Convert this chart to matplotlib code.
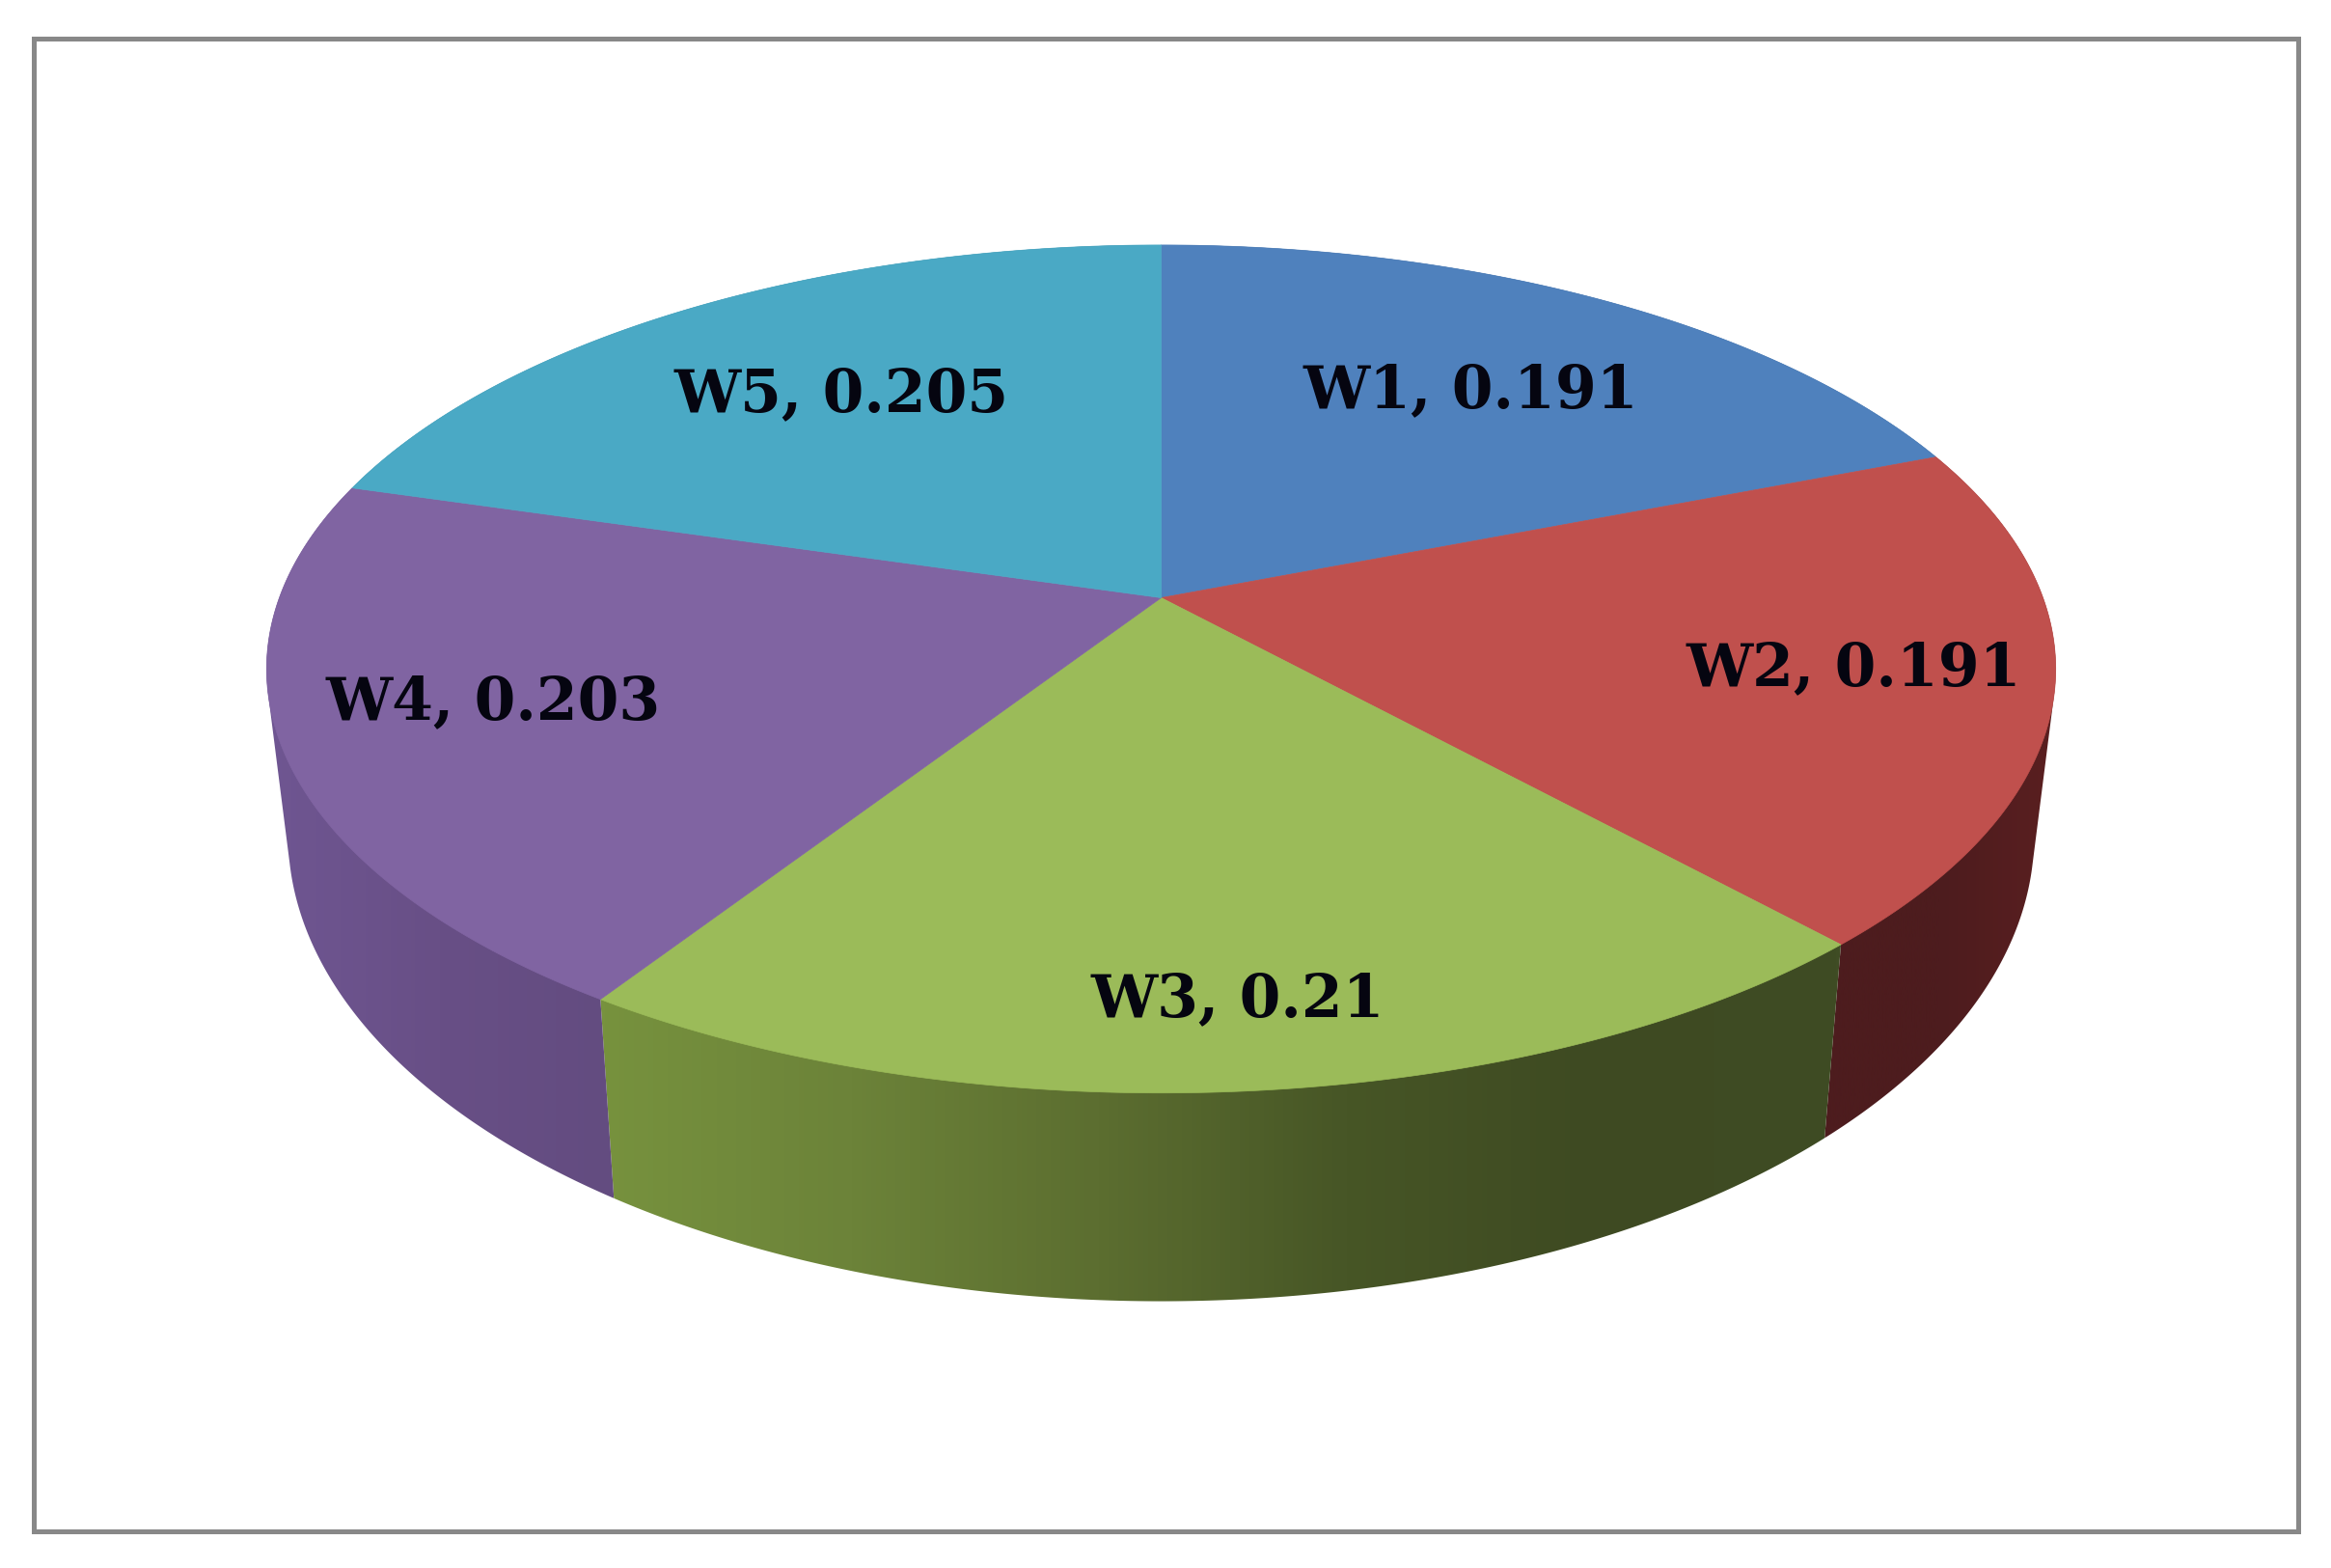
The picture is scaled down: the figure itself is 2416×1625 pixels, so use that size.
import numpy as np
import matplotlib
matplotlib.use('Agg')
import matplotlib.pyplot as plt
from matplotlib.colors import LinearSegmentedColormap
from matplotlib.patches import Polygon, Rectangle

# chart data
names = ['W1', 'W2', 'W3', 'W4', 'W5']
values = [0.191, 0.191, 0.21, 0.203, 0.205]
value_labels = ['0.191', '0.191', '0.21', '0.203', '0.205']

top_colors = ['#4f81bd', '#c0504d', '#9bbb59', '#8064a2', '#4aa9c5']
wall_colors = [
    ['#2c4a70', '#2c4a70'],
    ['#4d1c1e', '#4d1c1e', '#5a1f20'],
    ['#77923e', '#6c8339', '#5c6e30', '#475626', '#3e4a22', '#3f4c24'],
    ['#6f5692', '#684f86', '#634c80'],
    ['#2a6a7c', '#2a6a7c'],
]
label_pos = [(1524, 405), (1921, 693), (1283, 1036), (511, 728), (872, 409)]

# projection of the pie disc (pixels of the full image)
cx, cy = 1203.5, 619.5
rx, ry = 914, 427
k = 0.168
low_cy, low_sx, low_sy = 784, 0.976, 1.1


def rim(t, cy0=cy, sx=1.0, sy=1.0):
    # t is clockwise from 12 o'clock
    X, Y = np.sin(t), np.cos(t)
    s = 1 / (1 + k * Y)
    return cx + sx * rx * X * s, cy0 - sy * ry * Y * s


def low(t):
    return rim(t, low_cy, low_sx, low_sy)


def tangent_angle(a, b):
    # where the wall's vertical edge touches the outline of the top ellipse
    t = np.linspace(a, b, 2000)
    ux, uy = rim(t)
    lx, ly = low(t)
    cross = np.gradient(ux) * (ly - uy) - np.gradient(uy) * (lx - ux)
    return t[np.argmin(np.abs(cross))]


t_right = tangent_angle(np.pi / 4, 3 * np.pi / 4)
t_left = tangent_angle(5 * np.pi / 4, 7 * np.pi / 4)

fig = plt.figure(figsize=(24.16, 16.25), dpi=100)
ax = fig.add_axes([0, 0, 1, 1])
ax.set_xlim(0, 2416)
ax.set_ylim(1625, 0)
ax.axis('off')

ax.add_patch(Rectangle((34.5, 39.5), 2347, 1547, fc='white', ec='#888888', lw=3.6))

edges = np.cumsum([0] + values) / np.sum(values) * 2 * np.pi

# side walls first, the top covers what is behind
for i in range(len(values)):
    t = np.linspace(edges[i], edges[i + 1], 400)
    ux, uy = rim(t)
    lx, ly = low(t)
    front = (t >= t_right) & (t <= t_left)
    px = np.r_[ux[0], np.where(front, lx, ux), ux[-1]]
    py = np.r_[uy[0], np.where(front, ly, uy), uy[-1]]
    poly = Polygon(np.c_[px, py], closed=True, transform=ax.transData,
                   fc='none', ec='none')
    ax.add_patch(poly)
    cmap = LinearSegmentedColormap.from_list('wall%d' % i, wall_colors[i])
    im = ax.imshow(np.linspace(0, 1, 256)[None, :], cmap=cmap, aspect='auto',
                   extent=(px.min(), px.max(), py.max(), py.min()), zorder=2)
    im.set_clip_path(poly)

# top of the pie
for i in range(len(values)):
    t = np.linspace(edges[i], edges[i + 1], 200)
    x, y = rim(t)
    ax.fill(np.r_[cx, x], np.r_[cy, y], color=top_colors[i], lw=0.5, zorder=3)

ax.set_xlim(0, 2416)
ax.set_ylim(1625, 0)

for i in range(len(names)):
    ax.text(label_pos[i][0], label_pos[i][1], names[i] + ', ' + value_labels[i],
            family='DejaVu Serif', weight='bold', fontsize=44.3, color='#050510',
            ha='center', va='center', zorder=4)

fig.savefig('out.png', dpi=100, facecolor='white')
